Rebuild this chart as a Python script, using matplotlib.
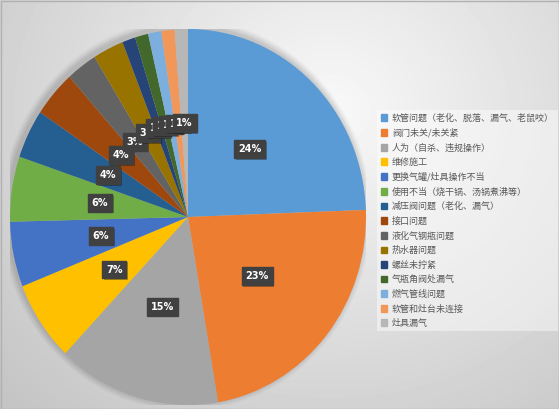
import matplotlib
matplotlib.use('Agg')
import matplotlib.pyplot as plt
import matplotlib.patches as mpatches
import matplotlib.patheffects as pe
import numpy as np

plt.rcParams['font.family'] = ['Noto Sans CJK SC', 'DejaVu Sans']

# slice shares (percent)
categories = ['软管问题（老化、脱落、漏气、老鼠咬）', '阀门未关/未关紧', '人为（自杀、违规操作）',
              '维修施工', '更换气罐/灶具操作不当', '使用不当（烧干锅、汤锅煮沸等）',
              '减压阀问题（老化、漏气）', '接口问题', '液化气钢瓶问题', '热水器问题',
              '螺丝未拧紧', '气瓶角阀处漏气', '燃气管线问题', '软管和灶台未连接', '灶具漏气']
shares = [24.4, 22.9, 14.8, 6.9, 5.6, 5.6, 4.2, 4.0, 2.8, 2.8, 1.2, 1.2, 1.2, 1.2, 1.2]
colors = ['#5B9BD5', '#ED7D31', '#A5A5A5', '#FFC000', '#4472C4', '#70AD47', '#255E91',
          '#9E480E', '#636363', '#997300', '#264478', '#43682B', '#7CAFDD', '#F1975A', '#B7B7B7']

W, H = 559, 409
fig = plt.figure(figsize=(W / 100, H / 100), dpi=100)

# radial grey background
bg = fig.add_axes([0, 0, 1, 1])
yy, xx = np.mgrid[0:H, 0:W]
d = np.hypot(xx - 330, (yy - 110) * 1.1)
shade = np.clip(0.975 - d / 420 * 0.19, 0.77, 0.975)
bg.imshow(shade, cmap='gray', vmin=0, vmax=1, aspect='auto', extent=[0, W, H, 0])
bg.add_patch(mpatches.Rectangle((0.5, 0.5), W - 1, H - 1, fill=False, ec='#b0b0b0', lw=1))
bg.set_xlim(0, W)
bg.set_ylim(H, 0)
bg.axis('off')

# pie area (slightly taller than wide, like the source)
cx, cy, rx, ry = 188, 217, 178, 188
ax = fig.add_axes([(cx - rx) / W, (H - cy - ry) / H, 2 * rx / W, 2 * ry / H])

# soft shadow behind pie
for k, a in enumerate([0.05, 0.05, 0.04, 0.03]):
    ax.add_patch(mpatches.Ellipse((-0.012, 0.012), 2 + 0.02 * (k + 1), 2 + 0.02 * (k + 1),
                                  color='black', alpha=a, lw=0, zorder=0))

wedges, _ = ax.pie(shares, colors=colors, startangle=90, counterclock=False,
                   radius=1, wedgeprops=dict(linewidth=0), frame=True)
ax.set_xlim(-1, 1)
ax.set_ylim(-1, 1)
ax.set_aspect('auto')
ax.axis('off')

# percentage labels in dark boxes
total = sum(shares)
ang = 90.0
for s in shares:
    mid = np.deg2rad(ang - s / total * 180)
    ang -= s / total * 360
    x, y = 0.5 * np.cos(mid), 0.5 * np.sin(mid)
    t = ax.text(x, y, f'{round(s / total * 100):.0f}%', ha='center', va='center',
                fontsize=7, fontweight='bold', family='DejaVu Sans', color='white',
                bbox=dict(boxstyle='square,pad=0.4', fc='#404040', ec='#404040'))
    t.get_bbox_patch().set_path_effects(
        [pe.SimplePatchShadow(offset=(1.2, -1.2), shadow_rgbFace='black', alpha=0.3), pe.Normal()])

# legend
handles = [mpatches.Patch(color=c, label=l) for c, l in zip(colors, categories)]
leg = fig.legend(handles=handles, loc='upper left', bbox_to_anchor=(377 / W, 1 - 110 / H),
                 frameon=True, fontsize=6.5, handlelength=0.75, handleheight=0.75,
                 handletextpad=0.5, labelspacing=0.6, borderpad=0.4, borderaxespad=0,
                 fancybox=False, labelcolor='#595959')
leg.get_frame().set_facecolor('white')
leg.get_frame().set_alpha(0.45)
leg.get_frame().set_edgecolor('none')

fig.savefig('out.png', dpi=100)
